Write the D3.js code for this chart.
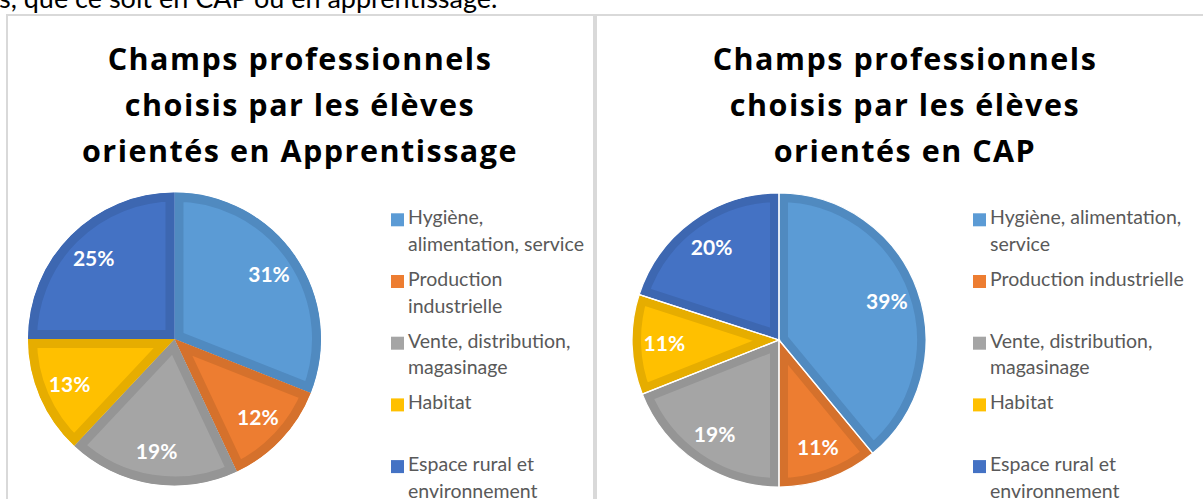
<!DOCTYPE html>
<html>
<head>
<meta charset="utf-8">
<script src="https://cdn.jsdelivr.net/npm/d3@7"></script>
<style>
  html, body { margin: 0; padding: 0; background: #fff; }
  svg { display: block; }
</style>
</head>
<body>
<svg id="chart" width="1203" height="499"></svg>
<script>
// ---------- DATA ----------
const categories = [
  "Hygiène, alimentation, service",
  "Production industrielle",
  "Vente, distribution, magasinage",
  "Habitat",
  "Espace rural et environnement"
];
const apprentissageValues = [31, 12, 19, 13, 25];
const capValues = [39, 11, 19, 11, 20];

const apprentissageTitle = ["Champs professionnels", "choisis par les élèves", "orientés en Apprentissage"];
const capTitle = ["Champs professionnels", "choisis par les élèves", "orientés en CAP"];

const apprentissageLegendLines = [
  ["Hygiène,", "alimentation, service"],
  ["Production", "industrielle"],
  ["Vente, distribution,", "magasinage"],
  ["Habitat"],
  ["Espace rural et", "environnement"]
];
const capLegendLines = [
  ["Hygiène, alimentation,", "service"],
  ["Production industrielle"],
  ["Vente, distribution,", "magasinage"],
  ["Habitat"],
  ["Espace rural et", "environnement"]
];

const introText = "s, que ce soit en CAP ou en apprentissage.";

// ---------- STYLE ----------
const fills   = ["#5B9BD5", "#ED7D31", "#A5A5A5", "#FFC000", "#4472C4"];
const strokes = ["#508AC0", "#D5712C", "#959595", "#E6AD00", "#3D67B1"];

const svg = d3.select("#chart");
const defs = svg.append("defs");

svg.append("text")
  .attr("x", -1).attr("y", 8)
  .attr("font-family", "Lato, 'Open Sans', sans-serif")
  .attr("font-size", 27)
  .attr("fill", "#000")
  .text(introText);

const panels = [
  { x: 7, w: 587, cx: 174.5, cy: 339, r: 146.5, titleX: 300, legendX: 391, values: apprentissageValues, title: apprentissageTitle, legend: apprentissageLegendLines, sep: false },
  { x: 596, w: 620, cx: 779, cy: 340, r: 147, titleX: 905, legendX: 973, values: capValues, title: capTitle, legend: capLegendLines, sep: true }
];

const color = d3.scaleOrdinal().domain(categories).range(fills);
const strokeColor = d3.scaleOrdinal().domain(categories).range(strokes);

const pie = d3.pie().sort(null).value(d => d.value);

panels.forEach((p, pi) => {
  const g = svg.append("g");
  // panel border
  g.append("rect")
    .attr("x", p.x).attr("y", 15)
    .attr("width", p.w).attr("height", 600)
    .attr("fill", "none")
    .attr("stroke", "#D9D9D9").attr("stroke-width", 2);

  // title
  const title = g.append("text")
    .attr("text-anchor", "middle")
    .attr("font-family", "'Open Sans', sans-serif")
    .attr("font-weight", "bold")
    .attr("font-size", 30.5)
    .attr("letter-spacing", 1.5)
    .attr("fill", "#000");
  p.title.forEach((line, i) => {
    title.append("tspan")
      .attr("x", p.titleX)
      .attr("y", 70 + i * 46)
      .text(line);
  });

  // pie
  const data = categories.map((c, i) => ({ cat: c, value: p.values[i] }));
  const arcs = pie(data);
  const arc = d3.arc().innerRadius(0).outerRadius(p.r);
  const labelArc = d3.arc().innerRadius(p.r * 0.78).outerRadius(p.r * 0.78);

  arcs.forEach((a, i) => {
    const id = `clip-${pi}-${i}`;
    defs.append("clipPath").attr("id", id)
      .append("path").attr("d", arc(a)).attr("transform", `translate(${p.cx},${p.cy})`);
    g.append("g")
      .attr("clip-path", `url(#${id})`)
      .append("path")
      .attr("transform", `translate(${p.cx},${p.cy})`)
      .attr("d", arc(a))
      .attr("fill", color(a.data.cat))
      .attr("stroke", strokeColor(a.data.cat))
      .attr("stroke-width", 18)
      .attr("stroke-linejoin", "miter");
  });

  if (p.sep) {
    g.append("g").attr("transform", `translate(${p.cx},${p.cy})`)
      .selectAll("path")
      .data(arcs)
      .join("path")
      .attr("d", arc)
      .attr("fill", "none")
      .attr("stroke", "#fff")
      .attr("stroke-width", 1.2);
  }

  g.append("g").attr("transform", `translate(${p.cx},${p.cy})`)
    .selectAll("text")
    .data(arcs)
    .join("text")
    .attr("transform", d => `translate(${labelArc.centroid(d)})`)
    .attr("text-anchor", "middle")
    .attr("dy", "0.36em")
    .attr("font-family", "Lato, 'Open Sans', sans-serif")
    .attr("font-weight", "bold")
    .attr("font-size", 21)
    .attr("fill", "#fff")
    .text(d => d.data.value + "%");

  // legend
  const legendY = d3.scaleBand().domain(categories).range([200, 508.5]);
  const lg = g.append("g");
  categories.forEach((c, i) => {
    const y0 = legendY(c) + 24.3;
    lg.append("rect")
      .attr("x", p.legendX).attr("y", y0 - 11)
      .attr("width", 13).attr("height", 13)
      .attr("fill", color(c));
    const t = lg.append("text")
      .attr("font-family", "Lato, 'Open Sans', sans-serif")
      .attr("font-size", 19.5)
      .attr("fill", "#595959");
    p.legend[i].forEach((line, j) => {
      t.append("tspan")
        .attr("x", p.legendX + 17)
        .attr("y", y0 + j * 26.5)
        .text(line);
    });
  });
});
</script>
</body>
</html>
